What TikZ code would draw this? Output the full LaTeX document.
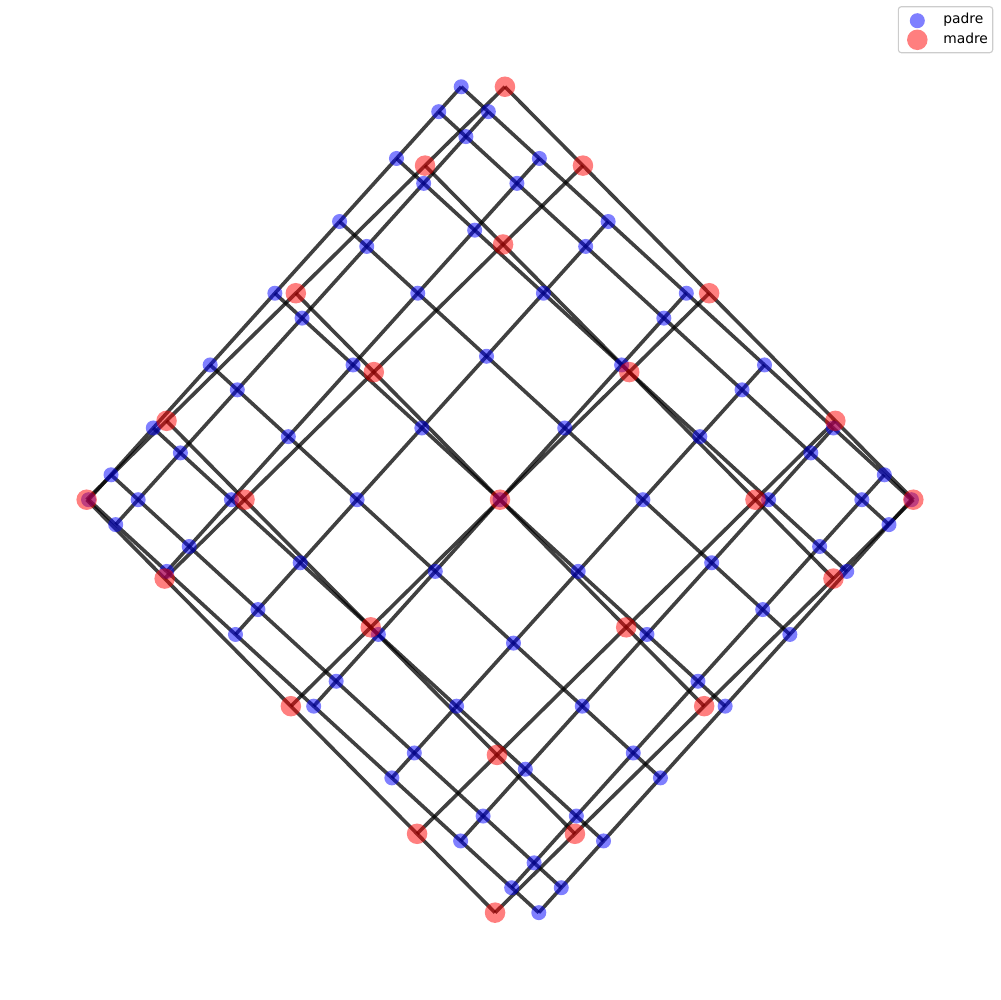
\documentclass[tikz,border=0pt]{standalone}
\usepackage{fontspec}
\setmainfont{DejaVu Sans}
\usetikzlibrary{backgrounds}
\begin{document}
\begin{tikzpicture}[x=0.01in,y=-0.01in,
  padrenode/.style={circle,inner sep=0pt,minimum size=0.15in,fill=blue,fill opacity=0.5},
  madrenode/.style={circle,inner sep=0pt,minimum size=0.205in,fill=red,fill opacity=0.5},
  gridline/.style={draw=black,line width=2.6pt,draw opacity=0.75},
  legtext/.style={anchor=base west,inner sep=0pt,font=\fontsize{10}{12}\selectfont}]
\useasboundingbox (0,0) rectangle (1000,1000);
% padre: 9x9 grid
\foreach \i in {0,...,8}{
  \foreach \j in {0,...,8}{
    \pgfmathsetmacro\ci{cos(180*(\i+0.5)/9)}
    \pgfmathsetmacro\cj{cos(180*(\j+0.5)/9)}
    \node[padrenode] (p-\i-\j) at ({500-228.6*\ci+189.2*\cj},{499.7-209.65*(\ci+\cj)}) {};
  }}
% madre: 5x5 grid
\foreach \i in {0,...,4}{
  \foreach \j in {0,...,4}{
    \pgfmathsetmacro\ci{cos(180*(\i+0.5)/5)}
    \pgfmathsetmacro\cj{cos(180*(\j+0.5)/5)}
    \node[madrenode] (m-\i-\j) at ({500-214.7*\ci+219.9*\cj},{499.7-217.1*(\ci+\cj)}) {};
  }}
\begin{scope}[on background layer]
\foreach \i in {0,...,8}{
  \foreach \j in {0,...,7}{
    \pgfmathtruncatemacro\k{\j+1}
    \draw[gridline] (p-\i-\j.center) -- (p-\i-\k.center);
    \draw[gridline] (p-\j-\i.center) -- (p-\k-\i.center);
  }}
\foreach \i in {0,...,4}{
  \foreach \j in {0,...,3}{
    \pgfmathtruncatemacro\k{\j+1}
    \draw[gridline] (m-\i-\j.center) -- (m-\i-\k.center);
    \draw[gridline] (m-\j-\i.center) -- (m-\k-\i.center);
  }}
\end{scope}
% legend
\path[draw=black!20,fill=white,fill opacity=0.8,rounded corners=0.03in,line width=0.8pt] (898.3,6.7) rectangle (992.7,52.7);
\node[padrenode] (legp) at (917.3,20.7) {};
\node[madrenode] (legm) at (917.3,39.8) {};
\node[legtext] (legpt) at (943,24) {padre};
\node[legtext] (legmt) at (943,43.5) {madre};
\end{tikzpicture}
\end{document}
